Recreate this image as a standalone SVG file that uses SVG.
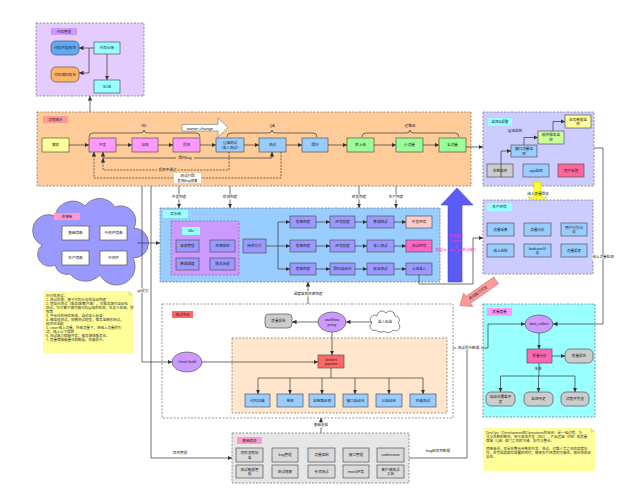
<svg xmlns="http://www.w3.org/2000/svg" width="620" height="500" viewBox="0 0 620 500">
<style>
.d{stroke:#7a7a7a;stroke-width:.8;stroke-dasharray:2 1.5}
.b{stroke:#555;stroke-width:.7}
.t{font-family:"Liberation Sans","Noto Sans CJK SC",sans-serif;font-size:3.6px;text-anchor:middle;dominant-baseline:central;fill:#222}
.l{font-family:"Liberation Sans","Noto Sans CJK SC",sans-serif;font-size:3.5px;fill:#333}
.c{fill:none;stroke:#333;stroke-width:.7}
.a{marker-end:url(#ar)}
.dc{stroke-dasharray:2 1.2}
.pk{fill:#ff99ff}.bl{fill:#99ccff}.gr{fill:#99ff99}.pu{fill:#9999ff}.gy{fill:#cccccc}.ws{fill:#ffffff}.ty{fill:#d9d9d9}
.mg{fill:#ff33cc}
</style>
<defs>
<marker id="ar" markerUnits="userSpaceOnUse" markerWidth="5" markerHeight="5" refX="4.5" refY="2.2" orient="auto-start-reverse"><path d="M0,0 L4.5,2.2 L0,4.4 z" fill="#333"/></marker>
</defs>
<rect width="620" height="500" fill="#fff"/>

<!-- code management -->
<g id="code">
<rect x="36" y="23" width="108" height="73" fill="#e5ccff" class="d"/>
<rect x="51" y="28" width="26" height="7" fill="#cc99ff"/><text class="t" x="64" y="31.5">代码管理</text>
<g id="code-std"><rect x="51" y="41" width="28" height="14" rx="5" fill="#5fa8f5" class="b"/><text class="t" x="65" y="48">代码开发规范</text></g>
<g id="code-enc"><rect x="51" y="67" width="28" height="15" rx="5" fill="#ffb366" class="b"/><text class="t" x="65" y="74.5">代码编码规范</text></g>
<g id="code-repo"><rect x="94" y="42" width="26" height="12" fill="#99ffff" class="b"/><text class="t" x="107" y="48">代码仓库</text></g>
<g id="scm"><rect x="94" y="80" width="26" height="13" fill="#99ffff" class="b"/><text class="t" x="107" y="86.5">SCM</text></g>
</g>

<!-- process -->
<g id="process">
<rect x="37" y="112" width="434" height="74" fill="#ffcc99" class="d"/>
<rect x="43" y="116" width="25" height="7" fill="#ff9999"/><text class="t" x="55.5" y="119.5">流程部分</text>
<polygon points="182,124.5 218,124.5 218,118 228,127.5 218,137 218,131 182,131" fill="#fff" stroke="#777" stroke-width=".6"/>
<text class="t" x="200" y="128" style="font-size:4.2px">owner change</text>
<path class="c" d="M89,137 Q89,133 93,133 L140,133 Q144,133 144,130 Q144,133 148,133 L196,133 Q200,133 200,137" stroke="#666"/>
<text class="t" x="144" y="126">RD</text>
<path class="c" d="M227,137 Q227,133 231,133 L268,133 Q272,133 272,130 Q272,133 276,133 L313,133 Q317,133 317,137" stroke="#666"/>
<text class="t" x="272" y="126">QA</text>
<path class="c" d="M362,137 Q362,133 366,133 L406,133 Q410,133 410,130 Q410,133 414,133 L455,133 Q459,133 459,137" stroke="#666"/>
<text class="t" x="410" y="126">运维组</text>
</g>
<g id="n-req"><rect x="42" y="138" width="27" height="14" fill="#ffff99" class="b"/><text class="t" x="55.5" y="145">需求</text></g>
<g id="n-dev"><rect x="89" y="138" width="27" height="14" class="b pk"/><text class="t" x="102.5" y="145">开发</text></g>
<g id="n-self"><rect x="132" y="138" width="26" height="14" class="b pk"/><text class="t" x="145" y="145">自测</text></g>
<g id="n-sub"><rect x="173" y="138" width="27" height="14" class="b pk"/><text class="t" x="186.5" y="145">提测</text></g>
<g id="n-smoke"><rect x="216" y="138" width="28" height="14" class="b bl"/><text class="t" x="230" y="142.5">冒烟测试</text><text class="t" x="230" y="147.5">（准入测试）</text></g>
<g id="n-test"><rect x="259" y="138" width="27" height="14" class="b bl"/><text class="t" x="272.5" y="145">测试</text></g>
<g id="n-reg"><rect x="302" y="138" width="26" height="14" class="b bl"/><text class="t" x="315" y="145">回归</text></g>
<g id="n-pre"><rect x="347" y="138" width="27" height="14" class="b gr"/><text class="t" x="360.5" y="145">预上线</text></g>
<g id="n-small"><rect x="396" y="138" width="27" height="14" class="b gr"/><text class="t" x="409.5" y="145">小流量</text></g>
<g id="n-full"><rect x="439" y="138" width="27" height="14" class="b gr"/><text class="t" x="452.5" y="145">全流量</text></g>

<!-- resource cloud -->
<g id="res">
<path d="M55,265 A12,12 0 0 1 42,245 A14,14 0 0 1 55,216 A18,18 0 0 1 85,206 A18,18 0 0 1 115,207 A15,15 0 0 1 134,228 A14,14 0 0 1 133,258 A18,18 0 0 1 100,275 A20,20 0 0 1 70,274 A12,12 0 0 1 55,265 Z" fill="#9999ff" stroke="#666" stroke-width=".7"/>
<rect x="54" y="213" width="26" height="7" fill="#ff99cc"/><text class="t" x="67" y="216.5">资源库</text>
<g id="r1"><rect x="62" y="226" width="27" height="14" class="b ws"/><text class="t" x="75.5" y="233">基础镜像</text></g>
<g id="r2"><rect x="100" y="226" width="27" height="14" class="b ws"/><text class="t" x="113.5" y="233">中间件镜像</text></g>
<g id="r3"><rect x="62" y="251" width="27" height="14" class="b ws"/><text class="t" x="75.5" y="258">生产镜像</text></g>
<g id="r4"><rect x="100" y="251" width="27" height="14" class="b ws"/><text class="t" x="113.5" y="258">中间件</text></g>
</g>

<!-- build -->
<g id="build">
<rect x="160" y="208" width="280" height="74" fill="#99ccff" class="d"/>
<rect x="163" y="210" width="25" height="8" fill="#99ffff"/><text class="t" x="175.5" y="214">流水线</text>
<rect x="171" y="221" width="68" height="54" fill="#cc99ff" class="d"/>
<rect x="182" y="227" width="18" height="8" fill="#99ffff"/><text class="t" x="191" y="231">k8s</text>
<g id="k1"><rect x="176" y="240" width="23" height="12" class="b pu"/><text class="t" x="187.5" y="246">容器管理</text></g>
<g id="k2"><rect x="210" y="240" width="25" height="12" class="b pu"/><text class="t" x="222.5" y="246">资源监控</text></g>
<g id="k3"><rect x="176" y="258" width="23" height="12" class="b pu"/><text class="t" x="187.5" y="264">集群调度</text></g>
<g id="k4"><rect x="210" y="258" width="25" height="12" class="b pu"/><text class="t" x="222.5" y="264">服务治理</text></g>
</g>
<g id="cd"><rect x="243" y="239" width="23" height="14" class="b pu"/><text class="t" x="254.5" y="246">持续交付</text></g>
<g id="b11"><rect x="290" y="216" width="26" height="12" class="b pu"/><text class="t" x="303" y="222">镜像构建</text></g>
<g id="b12"><rect x="330" y="216" width="25" height="12" class="b pu"/><text class="t" x="342.5" y="222">环境创建</text></g>
<g id="b13"><rect x="367" y="216" width="27" height="12" class="b pu"/><text class="t" x="380.5" y="222">集成测试</text></g>
<g id="b14"><rect x="406" y="216" width="26" height="12" fill="#ffcccc" class="b"/><text class="t" x="419" y="222">开发环境</text></g>
<g id="b21"><rect x="290" y="240" width="26" height="12" class="b pu"/><text class="t" x="303" y="246">镜像构建</text></g>
<g id="b22"><rect x="330" y="240" width="25" height="12" class="b pu"/><text class="t" x="342.5" y="246">环境创建</text></g>
<g id="b23"><rect x="367" y="240" width="27" height="12" class="b pu"/><text class="t" x="380.5" y="246">准入测试</text></g>
<g id="b24"><rect x="406" y="240" width="26" height="12" fill="#ff66cc" class="b"/><text class="t" x="419" y="246">测试环境</text></g>
<g id="b31"><rect x="290" y="263" width="26" height="12" class="b pu"/><text class="t" x="303" y="269">镜像构建</text></g>
<g id="b32"><rect x="330" y="263" width="25" height="12" class="b pu"/><text class="t" x="342.5" y="269">回归自动化</text></g>
<g id="b33"><rect x="367" y="263" width="27" height="12" class="b pu"/><text class="t" x="380.5" y="269">安全测试</text></g>
<g id="b34"><rect x="406" y="263" width="26" height="12" class="b pu"/><text class="t" x="419" y="269">上线准入</text></g>

<!-- big arrows -->
<g id="powerup">
<polygon points="448,282 448,205 441,205 457,188 473,205 462,205 462,282" fill="#5b5bf5" stroke="#4444cc" stroke-width=".6"/>
<text class="t mg" x="456" y="236">测试能力</text>
<text class="t mg" x="456" y="241">power</text>
<text class="t mg" x="456" y="245.5">up</text>
<text class="t mg" x="456" y="250">赋能rd，qa，pm测试能力</text>
</g>
<g id="settle">
<g transform="translate(478,293) rotate(145)"><polygon points="-22,-4 12,-4 12,-8 22,0 12,8 12,4 -22,4" fill="#ff9999" stroke="#cc6666" stroke-width=".6"/></g>
<text class="t" x="478" y="293" transform="rotate(-35 478 293)" fill="#993333">测试能力沉淀</text>
</g>

<!-- monitoring -->
<g id="monitor">
<rect x="483" y="112" width="111" height="74" fill="#ccccff" class="d"/>
<rect x="488" y="118" width="24" height="8" fill="#99ffff"/><text class="t" x="500" y="122">监控&amp;报警</text>
<text class="t" x="515" y="131">层级监控</text>
<g id="m1"><rect x="487" y="164" width="26" height="13" class="b gy"/><text class="t" x="500" y="170.5">系统监控</text></g>
<g id="m2"><rect x="523" y="164" width="26" height="13" class="b bl"/><text class="t" x="536" y="170.5">app监控</text></g>
<g id="m3"><rect x="558" y="164" width="26" height="13" fill="#ff6699" class="b"/><text class="t" x="571" y="170.5">用户反馈</text></g>
<g id="m4"><rect x="511" y="145" width="26" height="12" class="b bl"/><text class="t" x="524" y="149">接口流量监</text><text class="t" x="524" y="153.5">控</text></g>
<g id="m5"><rect x="538" y="131" width="26" height="13" fill="#ccff99" class="b"/><text class="t" x="551" y="135">模块服务监</text><text class="t" x="551" y="140">控</text></g>
<g id="m6"><rect x="565" y="115" width="26" height="13" fill="#ffff99" class="b"/><text class="t" x="578" y="119.5">业务数据监</text><text class="t" x="578" y="124">控</text></g>
</g>
<g id="yarrow">
<polygon points="534,182 541,182 541,197 547,197 537.5,206 528,197 534,197" fill="#ffff33" stroke="#cccc00" stroke-width=".6"/>
<text class="t" x="538" y="194">线上质量回收</text>
</g>

<!-- production -->
<g id="prod">
<rect x="483" y="200" width="110" height="74" fill="#ccccff" class="d"/>
<rect x="487" y="203" width="25" height="8" fill="#99ffff"/><text class="t" x="499.5" y="207">生产环境</text>
<g id="p1"><rect x="487" y="223" width="27" height="13" class="b bl"/><text class="t" x="500.5" y="229.5">流量采集</text></g>
<g id="p2"><rect x="524" y="223" width="27" height="13" class="b bl"/><text class="t" x="537.5" y="229.5">流量分析</text></g>
<g id="p3"><rect x="561" y="223" width="26" height="13" class="b bl"/><text class="t" x="574" y="227.5">用户行为分</text><text class="t" x="574" y="232">析</text></g>
<g id="p4"><rect x="487" y="244" width="27" height="13" class="b bl"/><text class="t" x="500.5" y="250.5">线上巡检</text></g>
<g id="p5"><rect x="524" y="244" width="27" height="13" class="b bl"/><text class="t" x="537.5" y="248.5">badcase分</text><text class="t" x="537.5" y="253">析</text></g>
<g id="p6"><rect x="561" y="244" width="26" height="13" class="b bl"/><text class="t" x="574" y="250.5">流量报表</text></g>
</g>

<!-- test platform -->
<g id="platform">
<rect x="162" y="304" width="291" height="114" fill="#fff" class="d"/>
<rect x="172" y="311" width="21" height="7" fill="#ff6666"/><text class="t" x="182.5" y="314.5">测试平台</text>
<rect x="232" y="338" width="215" height="75" fill="#ffe6cc" class="d"/>
</g>
<g id="qreport1"><rect x="265" y="314" width="27" height="14" rx="4" class="b gy"/><text class="t" x="278.5" y="321">质量报告</text></g>
<g id="workflow"><ellipse cx="332" cy="322" rx="14" ry="10" fill="#cc99ff" class="b"/><text class="t" x="332" y="320">workflow</text><text class="t" x="332" y="324.5">proxy</text></g>
<g id="std"><path d="M376,330 A4,4 0 0 1 372,323 A4,4 0 0 1 377,316 A5,5 0 0 1 386,313 A5,5 0 0 1 395,316 A4,4 0 0 1 398,323 A4,4 0 0 1 393,330 A6,6 0 0 1 384,331 A6,6 0 0 1 376,330 Z" fill="#fff" stroke="#555" stroke-width=".7"/><text class="t" x="385" y="322">准入标准</text></g>
<g id="jenkins"><rect x="318" y="355" width="26" height="13" fill="#ff6666" class="b"/><text class="t" x="331" y="359.5">Jenkins</text><text class="t" x="331" y="364">pipeline</text></g>
<g id="checkbuild"><ellipse cx="187" cy="362" rx="15" ry="10" fill="#cc99ff" class="b"/><text class="t" x="187" y="362">check build</text></g>
<g id="e1"><rect x="245" y="394" width="25" height="13" class="b bl"/><text class="t" x="257.5" y="400.5">代码扫描</text></g>
<g id="e2"><rect x="277" y="394" width="26" height="13" class="b bl"/><text class="t" x="290" y="400.5">单测</text></g>
<g id="e3"><rect x="309" y="394" width="26" height="13" class="b bl"/><text class="t" x="322" y="400.5">全链路压测</text></g>
<g id="e4"><rect x="343" y="394" width="25" height="13" class="b bl"/><text class="t" x="355.5" y="400.5">接口自动化</text></g>
<g id="e5"><rect x="376" y="394" width="26" height="13" class="b bl"/><text class="t" x="389" y="400.5">UI自动化</text></g>
<g id="e6"><rect x="410" y="394" width="26" height="13" class="b bl"/><text class="t" x="423" y="400.5">性能测试</text></g>

<!-- quality -->
<g id="quality">
<rect x="483" y="304" width="112" height="113" fill="#99ffff" class="d"/>
<rect x="487" y="308" width="25" height="8" fill="#ff99ff"/><text class="t" x="499.5" y="312">质量度量</text>
<text class="t" x="538" y="369">改进</text>
</g>
<g id="dc"><ellipse cx="539" cy="324" rx="14" ry="9" fill="#cc99ff" class="b"/><text class="t" x="539" y="324">data_collect</text></g>
<g id="qa"><rect x="527" y="349" width="25" height="14" fill="#ff66b3" class="b"/><text class="t" x="539.5" y="356">质量分析</text></g>
<g id="qr"><rect x="565" y="349" width="28" height="14" rx="5" class="b gy"/><text class="t" x="579" y="356">质量报告</text></g>
<g id="q1"><rect x="486" y="392" width="29" height="14" rx="5" class="b gy"/><text class="t" x="500.5" y="397">自动化覆盖不</text><text class="t" x="500.5" y="401.5">足</text></g>
<g id="q2"><rect x="524" y="392" width="29" height="14" rx="5" class="b gy"/><text class="t" x="538.5" y="399">监控不足</text></g>
<g id="q3"><rect x="561" y="392" width="28" height="14" rx="5" class="b gy"/><text class="t" x="575" y="399">流程不完善</text></g>

<!-- base -->
<g id="base">
<rect x="232" y="433" width="177" height="50" fill="#e6e6e6" class="d"/>
<rect x="237" y="437" width="25" height="7" fill="#ff99cc"/><text class="t" x="249.5" y="440.5">基础建设</text>
</g>
<g id="t1"><rect x="236" y="448" width="27" height="14" class="b ty"/><text class="t" x="249.5" y="453">项目流程标</text><text class="t" x="249.5" y="457.5">准</text></g>
<g id="t2"><rect x="272" y="448" width="26" height="14" class="b ty"/><text class="t" x="285" y="455">bug管理</text></g>
<g id="t3"><rect x="308" y="448" width="27" height="14" class="b ty"/><text class="t" x="321.5" y="455">流量录制</text></g>
<g id="t4"><rect x="343" y="448" width="26" height="14" class="b ty"/><text class="t" x="356" y="455">接口管理</text></g>
<g id="t5"><rect x="377" y="448" width="27" height="14" class="b ty"/><text class="t" x="390.5" y="455">codereview</text></g>
<g id="t6"><rect x="236" y="465" width="27" height="13" class="b ty"/><text class="t" x="249.5" y="469.5">测试数据管</text><text class="t" x="249.5" y="474">理</text></g>
<g id="t7"><rect x="272" y="465" width="26" height="13" class="b ty"/><text class="t" x="285" y="471.5">测试框架</text></g>
<g id="t8"><rect x="308" y="465" width="27" height="13" class="b ty"/><text class="t" x="321.5" y="471.5">专项测试</text></g>
<g id="t9"><rect x="343" y="465" width="26" height="13" class="b ty"/><text class="t" x="356" y="471.5">mock环境</text></g>
<g id="t10"><rect x="377" y="465" width="27" height="13" class="b ty"/><text class="t" x="390.5" y="469.5">客户端测试</text><text class="t" x="390.5" y="474">工具</text></g>

<!-- notes -->
<g id="note1">
<path d="M43,291 L129,291 L133,295 L133,353 L43,353 Z" fill="#ffff99"/>
<path d="M129,291 L129,295 L133,295" fill="#e6e68a" stroke="#cccc66" stroke-width=".4"/>
<text class="l"><tspan x="46" y="297">针对性测试：</tspan><tspan x="46" y="301">1. 测试前置，基于代码分支的自动构建</tspan><tspan x="46" y="305">2. 增加元测试（服务端/客户端），对服务端可自动化</tspan><tspan x="46" y="309">测试，针对客户端可做代码层级的检测，在各个区域，快</tspan><tspan x="46" y="313">照等</tspan><tspan x="46" y="317">3. 平台化的持续集成，自动准入标准</tspan><tspan x="46" y="321">4. 精准性测试，招募测试模型，推荐准确性测试，</tspan><tspan x="46" y="325">模块化适配</tspan><tspan x="46" y="329">5. cover线上流量，外部流量下，把线上流量的引</tspan><tspan x="46" y="333">流，线上以下回放</tspan><tspan x="46" y="337">6. 测试能力赋能开发，服务端微服务化。</tspan><tspan x="46" y="341">7. 质量保障能量化和数据，效能提升。</tspan></text>
</g>
<g id="note2">
<path d="M483,428 L591,428 L595,432 L595,471 L483,471 Z" fill="#ffff99"/>
<path d="M591,428 L591,432 L595,432" fill="#e6e68a" stroke="#cccc66" stroke-width=".4"/>
<text class="l"><tspan x="486" y="434">DevOps（Development和Operations的组合）是一组过程、方</tspan><tspan x="486" y="438">法与系统的统称，用于促进开发（RD）、产品运营（PM）和质量</tspan><tspan x="486" y="442">保障（QA）部门之间的沟通、协作与整合。</tspan><tspan x="486" y="450">简单来说，就是在整合传统的开发、测试、运维人员之间的高度协</tspan><tspan x="486" y="454">作，在完成高频率部署的同时，确保生产环境的可靠性、稳定性和安</tspan><tspan x="486" y="458">全性。</tspan></text>
</g>

<!-- connectors -->
<g id="connectors">
<path class="c a" d="M94,48 L79,48"/>
<path class="c a" d="M89,48 L89,73 L79,73"/>
<path class="c a" d="M107,54 L107,80"/>
<path class="c a" d="M90,112 L90,96"/>
<path class="c a" d="M69,145 L89,145"/>
<path class="c a" d="M116,145 L132,145"/>
<path class="c a" d="M158,145 L173,145"/>
<path class="c a" d="M200,145 L216,145"/>
<path class="c a" d="M244,145 L259,145"/>
<path class="c a" d="M286,145 L302,145"/>
<path class="c a" d="M328,145 L347,145"/>
<path class="c a" d="M374,145 L396,145"/>
<path class="c a" d="M423,145 L439,145"/>
<path class="c a" d="M466,147 L483,147"/>
<path class="c a" d="M103,158 L272,158 L272,152"/>
<path class="c a" d="M103,158 L103,152"/>
<path class="c a dc" d="M229,152 L229,170 L103,170 L103,158"/>
<path class="c a dc" d="M281,152 L281,178 L94,178 L94,152"/>
<rect x="176" y="155.5" width="18" height="5" fill="#ffcc99"/><text class="t" x="185" y="158">回归bug</text>
<rect x="157" y="167.5" width="21" height="5" fill="#ffcc99"/><text class="t" x="167.5" y="170">提测不通过</text>
<rect x="174" y="173" width="27" height="10" fill="#fff"/><text class="t" x="187.5" y="175.5">测试打回</text><text class="t" x="187.5" y="180.5">发现bug修复</text>
<path class="c a" d="M179,186 L179,208"/><rect x="171" y="194.5" width="16" height="5" fill="#fff"/><text class="t" x="179" y="197">开发构建</text>
<path class="c a" d="M230,186 L230,208"/><rect x="222" y="194.5" width="16" height="5" fill="#fff"/><text class="t" x="230" y="197">提测构建</text>
<path class="c a" d="M359,186 L359,208"/><rect x="351" y="194.5" width="16" height="5" fill="#fff"/><text class="t" x="359" y="197">预发构建</text>
<path class="c a" d="M396,186 L396,208"/><rect x="388" y="194.5" width="16" height="5" fill="#fff"/><text class="t" x="396" y="197">生产构建</text>
<path class="c a" d="M142,186 L142,362 L172,362"/>
<rect x="136" y="288" width="14" height="5" fill="#fff"/><text class="t" x="143" y="290.5">git提交</text>
<path class="c a" d="M151,186 L151,458 L232,458"/>
<text class="t" x="180" y="453">项目管理</text>
<path class="c a" d="M137,243 L160,243"/>
<path class="c" d="M266,246 L278,246 M278,222 L278,269"/>
<path class="c a" d="M278,222 L290,222"/>
<path class="c a" d="M278,246 L290,246"/>
<path class="c a" d="M278,269 L290,269"/>
<path class="c a" d="M316,222 L330,222"/><path class="c a" d="M355,222 L367,222"/><path class="c a" d="M394,222 L406,222"/>
<path class="c a" d="M316,246 L330,246"/><path class="c a" d="M355,246 L367,246"/><path class="c a" d="M394,246 L406,246"/>
<path class="c a" d="M316,269 L330,269"/><path class="c a" d="M355,269 L367,269"/><path class="c a" d="M394,269 L406,269"/>
<path class="c a" d="M419,275 L419,284 L473,284 L473,238 L483,238"/>
<path class="c a" d="M308,304 L308,282"/>
<rect x="291" y="291.5" width="34" height="5" fill="#fff"/><text class="t" x="308" y="294">调度容器资源构建</text>
<path class="c a" d="M501,177 L501,151 L511,151"/>
<path class="c a" d="M524,145 L524,137.5 L538,137.5"/>
<path class="c a" d="M553,131 L553,121.5 L565,121.5"/>
<path class="c a" d="M594,148 L603,148 L603,324 L553,324"/>
<rect x="592" y="254.5" width="22" height="5" fill="#fff"/><text class="t" x="603" y="257">线上流量检测</text>
<path class="c a" d="M372,322 L346,322"/>
<path class="c a" d="M318,322 L292,322"/>
<path class="c a" d="M332,332 L332,355"/>
<path class="c a" d="M202,362 L318,362"/>
<path class="c" d="M331,368 L331,378 M258,378 L423,378"/>
<path class="c a" d="M258,378 L258,394"/><path class="c a" d="M290,378 L290,394"/><path class="c a" d="M322,378 L322,394"/><path class="c a" d="M355,378 L355,394"/><path class="c a" d="M389,378 L389,394"/><path class="c a" d="M423,378 L423,394"/>
<path class="c a" d="M409,458 L467,458 L467,348 L488,348 L488,324 L525,324"/>
<path class="c" d="M453,348 L467,348"/>
<rect x="456" y="345" width="25" height="5" fill="#fff"/><text class="t" x="468.5" y="347.5">测试提升数据</text>
<text class="t" x="438" y="451">bug和项目数据</text>
<path class="c a" d="M539,333 L539,349"/>
<path class="c a" d="M552,356 L565,356"/>
<path class="c" d="M539,363 L539,376 M500.5,376 L575,376"/>
<path class="c a" d="M500.5,376 L500.5,392"/><path class="c a" d="M538.5,376 L538.5,392"/><path class="c a" d="M575,376 L575,392"/>
<path class="c a" d="M321,433 L321,418"/>
<rect x="313" y="422.5" width="16" height="5" fill="#fff"/><text class="t" x="321" y="425">基础支撑</text>
</g>
</svg>
